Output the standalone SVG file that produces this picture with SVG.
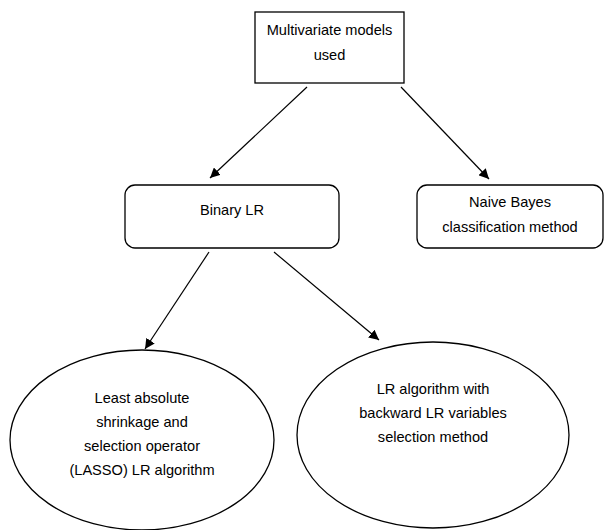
<svg xmlns="http://www.w3.org/2000/svg" width="606" height="530" viewBox="0 0 606 530">
<style>
.n{fill:#fff;stroke:#000;stroke-width:1.3}
.t{font-family:"Liberation Sans",Arial,sans-serif;font-size:14.6px;fill:#000;text-anchor:middle}
.c{stroke:#000;stroke-width:1.2;fill:none;marker-end:url(#ah)}
</style>
<defs>
<marker id="ah" viewBox="0 0 10 10" refX="10" refY="5" markerWidth="10" markerHeight="10" markerUnits="userSpaceOnUse" orient="auto">
<path d="M0,0 L10,5 L0,10 z" fill="#000"/>
</marker>
</defs>
<rect width="606" height="530" fill="#fff"/>
<g id="connectors">
<line class="c" x1="307" y1="87" x2="210" y2="178"/>
<line class="c" x1="401" y1="87" x2="489" y2="179"/>
<line class="c" x1="209" y1="252" x2="145" y2="349"/>
<line class="c" x1="274" y1="252" x2="379" y2="340"/>
</g>
<g id="multivariate">
<rect class="n" x="255" y="12" width="149" height="71"/>
<text class="t" x="329.5" y="35">Multivariate models</text>
<text class="t" x="329.5" y="60">used</text>
</g>
<g id="binary-lr">
<rect class="n" x="125" y="185" width="214" height="63" rx="10"/>
<text class="t" x="232" y="215">Binary LR</text>
</g>
<g id="naive-bayes">
<rect class="n" x="417" y="185" width="186" height="63" rx="10"/>
<text class="t" x="510" y="207">Naive Bayes</text>
<text class="t" x="510" y="232">classification method</text>
</g>
<g id="lasso">
<ellipse class="n" cx="142" cy="440" rx="132" ry="90"/>
<text class="t" x="142" y="403">Least absolute</text>
<text class="t" x="142" y="427">shrinkage and</text>
<text class="t" x="142" y="451">selection operator</text>
<text class="t" x="142" y="475">(LASSO) LR algorithm</text>
</g>
<g id="backward">
<ellipse class="n" cx="433" cy="435" rx="136" ry="93"/>
<text class="t" x="433" y="394">LR algorithm with</text>
<text class="t" x="433" y="418">backward LR variables</text>
<text class="t" x="433" y="442">selection method</text>
</g>
</svg>
